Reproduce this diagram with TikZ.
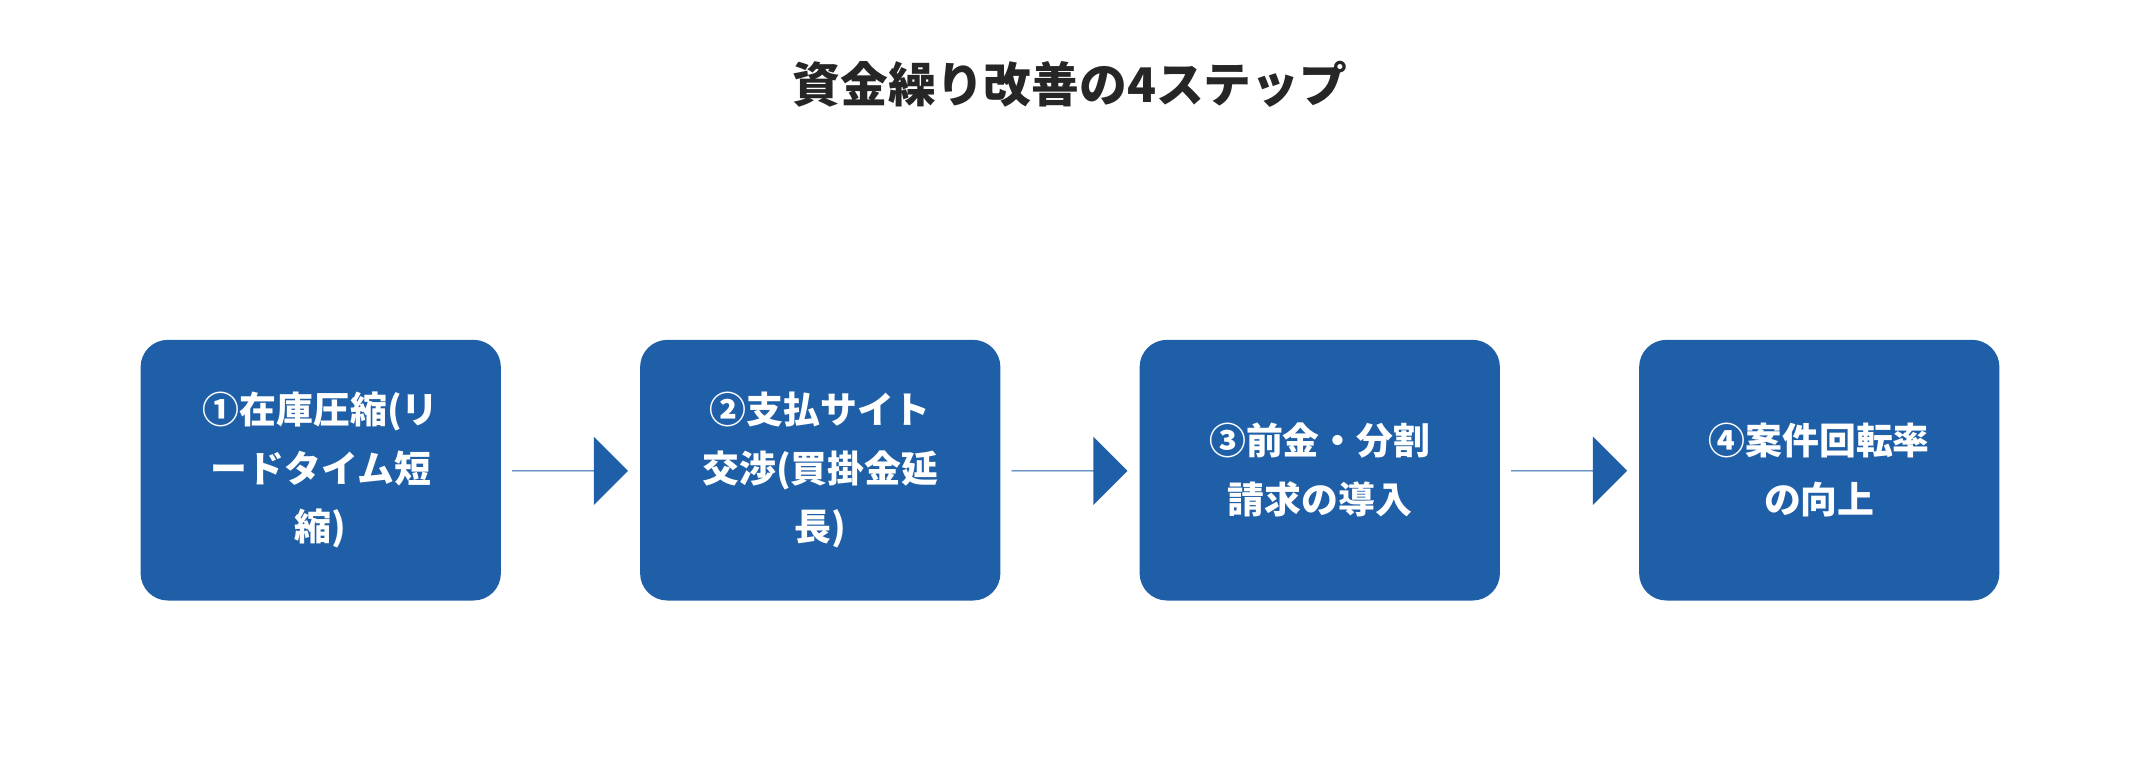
\documentclass[tikz,border=0pt]{standalone}
\usepackage{fontspec}
\setmainfont{Noto Sans CJK JP}
\usetikzlibrary{positioning,shapes.arrows}
\definecolor{stepblue}{HTML}{1F5FA8}
\definecolor{titlegray}{HTML}{262626}
\tikzstyle{S} = [rectangle, fill=stepblue, text=white,
			minimum width=264pt, minimum height=191pt,
			rounded corners=20pt, align=center,
			font=\fontsize{27}{43}\selectfont\bfseries]
\tikzstyle{A} = [single arrow, fill=stepblue, draw=none,
			minimum width=50pt, single arrow head extend=13pt,
			single arrow head indent=0pt, minimum height=85pt,
			inner sep=0pt]

\begin{document}
\begin{tikzpicture}[x=1pt, y=-1pt]
\useasboundingbox (0,0) rectangle (1568,572);

\node [font=\fontsize{35}{40}\selectfont\bfseries, text=titlegray]
(title) at (784,62)
	{資金繰り改善の4ステップ};

\node [S] (s1) at (235,344.5)
	{①在庫圧縮(リ\\ードタイム短\\縮)};

\node [S] (s2) at (601,344.5)
	{②支払サイト\\交渉(買掛金延\\長)};

\node [S] (s3) at (967,344.5)
	{③前金・分割\\請求の導入};

\node [S] (s4) at (1333,344.5)
	{④案件回転率\\の向上};

\node [A] (a1) at (417.5,345) {};
\node [A] (a2) at (783.5,345) {};
\node [A] (a3) at (1149.5,345) {};

\end{tikzpicture}
\end{document}
